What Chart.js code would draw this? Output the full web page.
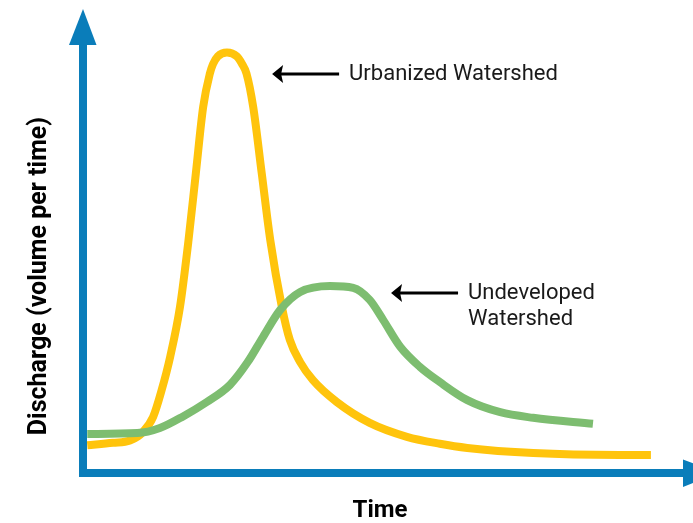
<!DOCTYPE html>
<html>
<head>
<meta charset="utf-8">
<script src="https://cdn.jsdelivr.net/npm/chart.js@4/dist/chart.umd.min.js"></script>
<style>
  html, body { margin: 0; padding: 0; background: #ffffff; }
  #wrap { width: 693px; height: 523px; }
</style>
</head>
<body>
<div id="wrap"><canvas id="c" width="693" height="523"></canvas></div>
<script>
// ---- Data (time in arbitrary units 0-100, discharge 0-100) ----
const urbanTime = [0.7, 4.9, 7.7, 9.8, 11.5, 12.9, 14.3, 15.9, 17.3, 18.5, 19.7, 20.8, 21.3, 22.1, 23.6, 25.2, 26.1, 26.8, 27.9, 29.3, 30.7, 32.6, 33.9, 35.6, 37.7, 41.6, 47.0, 53.1, 58.5, 63.0, 73.8, 88.0, 93.1];
const urbanQ    = [6.0, 6.5, 7.0, 8.8, 12.1, 17.9, 25.1, 35.8, 50.2, 64.6, 78.9, 86.1, 88.1, 89.8, 90.6, 89.8, 88.1, 86.1, 78.9, 64.6, 50.2, 35.8, 28.7, 23.9, 20.0, 15.3, 10.8, 7.8, 6.3, 5.4, 4.3, 3.9, 3.9];

const undevTime = [0.7, 8.9, 12.6, 16.4, 20.3, 24.1, 27.0, 29.5, 32.3, 35.6, 40.5, 44.3, 47.0, 49.2, 52.0, 55.2, 58.5, 63.0, 68.4, 73.8, 83.6];
const undevQ    = [8.4, 8.6, 9.7, 12.2, 15.3, 19.0, 23.9, 29.3, 35.1, 39.0, 40.3, 39.9, 37.3, 33.0, 27.2, 22.9, 19.6, 15.7, 13.1, 11.9, 10.6];

const seriesNames = ["Urbanized Watershed", "Undeveloped Watershed"];
const xAxisTitle = "Time";
const yAxisTitle = "Discharge (volume per time)";

// annotation labels: text lines and the data point the arrow tip points at
const noteLines = [["Urbanized Watershed"], ["Undeveloped", "Watershed"]];
const noteTipTime = [31.0, 50.5];
const noteTipQ    = [86.0, 38.8];

const toPts = (xs, ys) => xs.map((x, i) => ({ x: x, y: ys[i] }));

const BLUE = "#0a7dba";
const YELLOW = "#ffc40c";
const GREEN = "#7dbd70";

const decor = {
  id: "decor",
  beforeDatasetsDraw(chart) {
    const ctx = chart.ctx;
    const a = chart.chartArea;
    const L = a.left, B = a.bottom;
    ctx.save();
    ctx.fillStyle = BLUE;
    // vertical axis
    ctx.fillRect(L - 4, 45, 8, B + 4 - 45);
    ctx.beginPath();
    ctx.moveTo(L - 14, 45); ctx.lineTo(L + 13.5, 45); ctx.lineTo(L, 9); ctx.closePath(); ctx.fill();
    // horizontal axis
    ctx.fillRect(L - 4, B - 4, 683 - (L - 4), 8);
    ctx.beginPath();
    ctx.moveTo(683, B - 13.5); ctx.lineTo(683, B + 14); ctx.lineTo(719, B); ctx.closePath(); ctx.fill();

    // axis titles
    ctx.fillStyle = "#000";
    ctx.font = "bold 24px Roboto";
    ctx.textAlign = "center";
    ctx.textBaseline = "middle";
    ctx.fillText(xAxisTitle, 380, 511);
    ctx.translate(40, 276);
    ctx.rotate(-Math.PI / 2);
    ctx.font = "bold 25px Roboto";
    ctx.fillText(yAxisTitle, 0, 0);
    ctx.restore();
  },
  afterDatasetsDraw(chart) {
    const ctx = chart.ctx;
    const xs = chart.scales.x, ys = chart.scales.y;
    ctx.save();
    for (let i = 0; i < noteLines.length; i++) {
      const tx = xs.getPixelForValue(noteTipTime[i]);
      const ty = ys.getPixelForValue(noteTipQ[i]);
      ctx.fillStyle = "#000";
      ctx.strokeStyle = "#000";
      ctx.lineWidth = 3;
      ctx.beginPath();
      ctx.moveTo(tx + 8, ty); ctx.lineTo(tx + 67, ty); ctx.stroke();
      ctx.beginPath();
      ctx.moveTo(tx, ty);
      ctx.lineTo(tx + 11, ty - 9);
      ctx.lineTo(tx + 9, ty);
      ctx.lineTo(tx + 11, ty + 9);
      ctx.closePath();
      ctx.fill();
      ctx.font = "22px Roboto";
      ctx.fillStyle = "#1a1a1a";
      ctx.textAlign = "left";
      ctx.textBaseline = "middle";
      noteLines[i].forEach((t, k) => ctx.fillText(t, tx + 77, ty + 1 + k * 26));
    }
    ctx.restore();
  }
};

new Chart(document.getElementById("c"), {
  type: "line",
  data: {
    datasets: [
      { label: seriesNames[1], data: toPts(undevTime, undevQ), borderColor: GREEN, borderWidth: 8, pointRadius: 0, cubicInterpolationMode: "monotone", fill: false, borderCapStyle: "butt", borderJoinStyle: "round" },
      { label: seriesNames[0], data: toPts(urbanTime, urbanQ), borderColor: YELLOW, borderWidth: 8, pointRadius: 0, cubicInterpolationMode: "monotone", fill: false, borderCapStyle: "butt", borderJoinStyle: "round" }
    ]
  },
  options: {
    responsive: false,
    animation: false,
    devicePixelRatio: 1,
    layout: { padding: { left: 83, right: 0, top: 9, bottom: 50 } },
    plugins: { legend: { display: false }, tooltip: { enabled: false } },
    scales: {
      x: { type: "linear", min: 0, max: 100, display: false },
      y: { type: "linear", min: 0, max: 100, display: false }
    }
  },
  plugins: [decor]
});
</script>
</body>
</html>
